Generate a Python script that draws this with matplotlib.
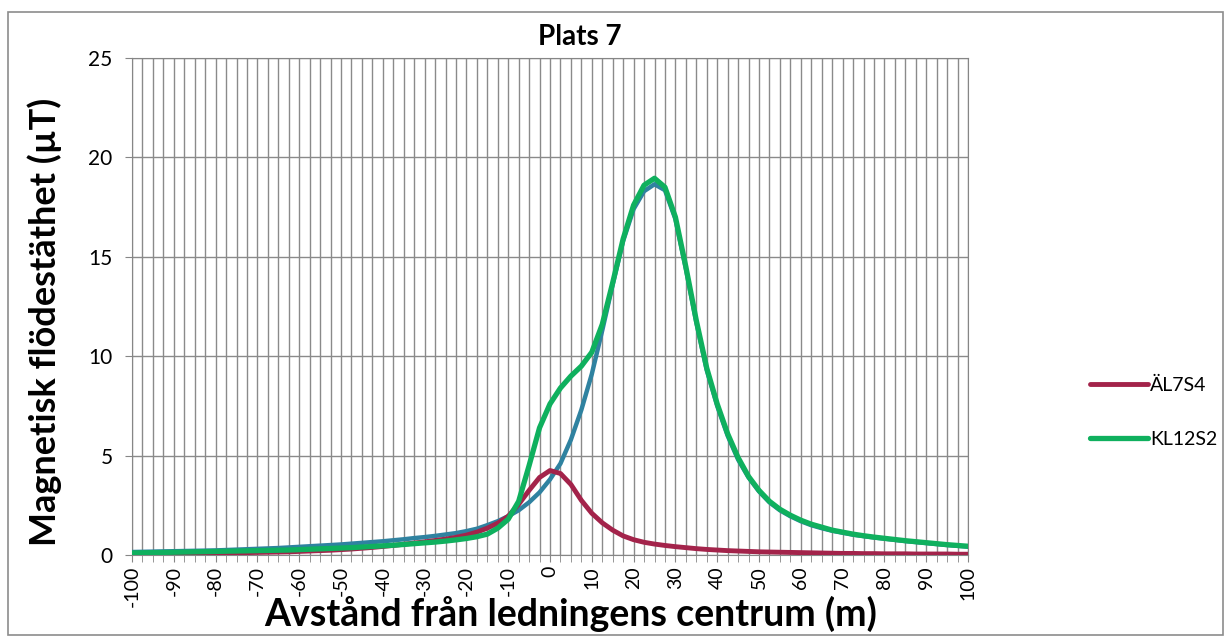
import numpy as np
import matplotlib
matplotlib.use("Agg")
import matplotlib.pyplot as plt
from matplotlib.patches import Rectangle

# distance from line centre (m), one point every 2.5 m
avstand = np.arange(-100, 100.1, 2.5)

# ÄL7S4
al7s4 = [0.05, 0.05, 0.06, 0.06, 0.07, 0.07, 0.08, 0.08, 0.09, 0.10,
         0.11, 0.12, 0.13, 0.14, 0.15, 0.16, 0.18, 0.20, 0.22, 0.24,
         0.27, 0.30, 0.34, 0.38, 0.43, 0.48, 0.54, 0.60, 0.66, 0.73,
         0.80, 0.89, 1.00, 1.15, 1.35, 1.60, 1.95, 2.55, 3.25, 3.90,
         4.25, 4.10, 3.55, 2.75, 2.10, 1.62, 1.25, 0.96, 0.77, 0.64,
         0.55, 0.48, 0.42, 0.37, 0.32, 0.28, 0.25, 0.22, 0.20, 0.18,
         0.16, 0.15, 0.14, 0.13, 0.12, 0.11, 0.10, 0.09, 0.08, 0.08,
         0.07, 0.07, 0.06, 0.06, 0.06, 0.05, 0.05, 0.05, 0.05, 0.04,
         0.04]

# KL12S2
kl12s2 = [0.10, 0.11, 0.12, 0.13, 0.14, 0.15, 0.16, 0.17, 0.18, 0.19,
          0.20, 0.21, 0.22, 0.23, 0.24, 0.25, 0.27, 0.29, 0.31, 0.33,
          0.35, 0.37, 0.40, 0.43, 0.46, 0.49, 0.53, 0.57, 0.61, 0.65,
          0.70, 0.76, 0.83, 0.92, 1.05, 1.35, 1.80, 2.70, 4.50, 6.40,
          7.60, 8.40, 9.00, 9.50, 10.20, 11.60, 13.70, 15.90, 17.60, 18.60,
          18.95, 18.50, 17.00, 14.50, 11.80, 9.40, 7.60, 6.10, 4.90, 3.95,
          3.25, 2.70, 2.30, 2.00, 1.75, 1.55, 1.40, 1.25, 1.15, 1.05,
          0.97, 0.90, 0.84, 0.78, 0.72, 0.67, 0.62, 0.57, 0.52, 0.48,
          0.44]

# third (unlabelled) series
serie3 = [0.15, 0.16, 0.17, 0.18, 0.19, 0.20, 0.21, 0.22, 0.23, 0.25,
          0.27, 0.29, 0.31, 0.33, 0.35, 0.38, 0.41, 0.44, 0.47, 0.50,
          0.53, 0.57, 0.61, 0.65, 0.69, 0.74, 0.79, 0.85, 0.90, 0.96,
          1.03, 1.10, 1.20, 1.32, 1.50, 1.70, 1.95, 2.25, 2.65, 3.15,
          3.80, 4.60, 5.80, 7.30, 9.10, 11.30, 13.60, 15.80, 17.40, 18.30,
          18.65, 18.35, 16.90, 14.40, 11.70, 9.30, 7.50, 6.00, 4.80, 3.90,
          3.20, 2.65, 2.25, 1.95, 1.70, 1.50, 1.35, 1.22, 1.12, 1.02,
          0.95, 0.88, 0.82, 0.76, 0.70, 0.65, 0.60, 0.55, 0.50, 0.46,
          0.42]

plt.rcParams['font.family'] = ['Lato', 'DejaVu Sans']
plt.rcParams['axes.unicode_minus'] = False

fig = plt.figure(figsize=(12.31, 6.41), dpi=100)
fig.patch.set_facecolor('white')
fig.patches.append(Rectangle((8 / 1231, 6 / 641), 1215 / 1231, 623 / 641,
                             transform=fig.transFigure, fill=False,
                             edgecolor='#8c8c8c', linewidth=1.2))

ax = fig.add_axes([132 / 1231, 1 - 555 / 641, 836 / 1231, 497 / 641])

ax.plot(avstand, serie3, color='#2f82a0', lw=3.2, solid_joinstyle='round',
        solid_capstyle='round', zorder=3, label='_nolegend_')
ax.plot(avstand, al7s4, color='#a3234a', lw=3.5, solid_joinstyle='round',
        solid_capstyle='round', zorder=4, label='ÄL7S4')
ax.plot(avstand, kl12s2, color='#0fb05e', lw=3.8, solid_joinstyle='round',
        solid_capstyle='round', zorder=5, label='KL12S2')

ax.set_xlim(-100, 100)
ax.set_ylim(0, 25)
ax.set_xticks(np.arange(-100, 101, 10))
ax.set_xticks(avstand, minor=True)
ax.set_yticks(np.arange(0, 26, 5))
ax.tick_params(axis='x', which='major', labelrotation=90, labelsize=14,
               length=5, color='#868686', pad=3)
ax.tick_params(axis='x', which='minor', length=5, color='#868686')
ax.tick_params(axis='y', labelsize=15, length=5, color='#868686', pad=9)

ax.grid(True, which='both', axis='x', color='#8a8a8a', lw=1)
ax.grid(True, which='major', axis='y', color='#8a8a8a', lw=1)
ax.set_axisbelow(True)
for s in ax.spines.values():
    s.set_color('#868686')

fig.text(580 / 1231, 1 - 37 / 641, 'Plats 7', fontsize=20, fontweight='bold',
         ha='center', va='center')
fig.text(571 / 1231, 1 - 614 / 641, 'Avstånd från ledningens centrum (m)',
         fontsize=27, fontweight='bold', ha='center', va='center')
fig.text(45 / 1231, 1 - 322 / 641, 'Magnetisk flödestäthet (µT)',
         fontsize=26, fontweight='bold', ha='center', va='center',
         rotation=90)

ax.legend(loc='center left', bbox_to_anchor=(1072 / 1231, 1 - 412 / 641),
          bbox_transform=fig.transFigure, frameon=False, fontsize=14,
          handlelength=3.0, handletextpad=0.1, labelspacing=1.9)

fig.savefig('out.png', dpi=100)
